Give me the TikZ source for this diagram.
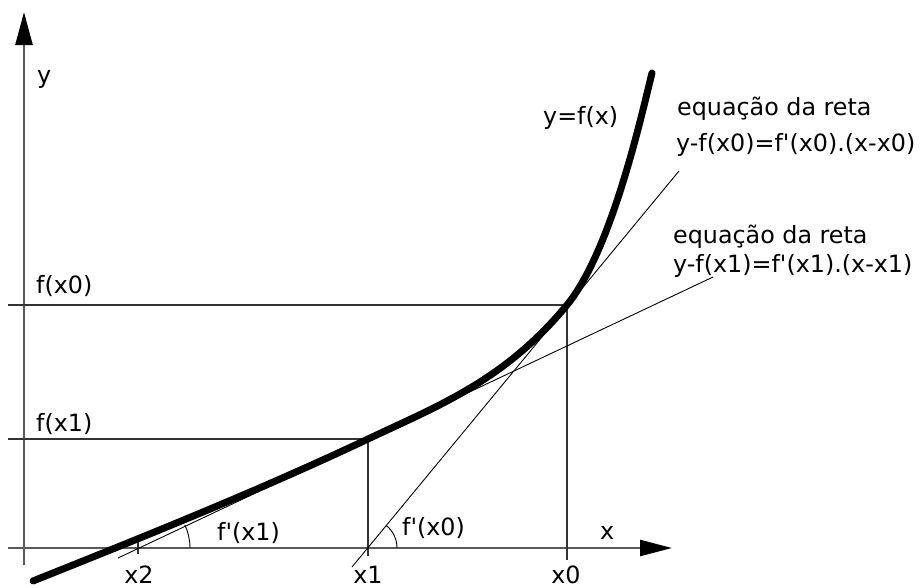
\documentclass[tikz,border=0pt]{standalone}
\usepackage{fontspec}
\setmainfont{DejaVu Sans}
\usetikzlibrary{arrows.meta}
\newcommand{\pq}{\textquotesingle}
\begin{document}
\begin{tikzpicture}[x=1pt,y=-1pt,
  axis/.style={draw=black!65,line width=2.6pt},
  guide/.style={draw=black!80,line width=1.2pt},
  tang/.style={draw=black,line width=0.9pt},
  curvestyle/.style={draw=black,line width=7pt,line cap=round},
  lbl/.style={inner sep=0pt,anchor=base west,font=\fontsize{23.8}{28}\selectfont}]
\useasboundingbox (0,0) rectangle (921,587);
\fill[white] (0,0) rectangle (921,587);
% key points
\coordinate (P0) at (567,305);
\coordinate (P1) at (368,439);
\coordinate (X0) at (567,548);
\coordinate (X1) at (368,548);
\coordinate (X2) at (136,548);
\coordinate (CS) at (33,581);
\coordinate (CE) at (652,73);
% axes
\coordinate (yb) at (24,565);
\coordinate (yt) at (24,12);
\coordinate (xl) at (8,548);
\coordinate (xr) at (672,548);
\draw[axis,-{Triangle[length=33pt,width=17pt,black]}] (yb) -- (yt);
\draw[axis,-{Triangle[length=32pt,width=16pt,black]}] (xl) -- (xr);
% guide lines
\coordinate (h0) at (8,305);
\coordinate (h1) at (8,439);
\coordinate (v0) at (567,560);
\coordinate (v1) at (368,556);
\draw[guide] (h0) -- (P0) -- (v0);
\draw[guide] (h1) -- (P1) -- (v1);
\coordinate (t2a) at (138,538);
\coordinate (t2b) at (138,554);
\draw[guide] (t2a) -- (t2b);
% tangent lines
\coordinate (T1a) at (118,558);
\coordinate (T1b) at (713,277);
\coordinate (T0a) at (352,567);
\coordinate (T0b) at (679,171);
\draw[tang] (T1a) -- (T1b);
\draw[tang] (T0a) -- (T0b);
% angle arcs
\draw[tang] ([shift={(54,0)}]X2) arc[start angle=0,end angle=-25.2,radius=54];
\draw[tang] ([shift={(29,0)}]X1) arc[start angle=0,end angle=-50.7,radius=29];
% curve
\draw[curvestyle] (CS) .. controls (143,537) and (258,491) .. (P1)
  .. controls (440,405) and (505,380) .. (P0)
  .. controls (612,250) and (642,113) .. (CE);
% labels
\node[lbl] (ly) at (37,83) {y};
\node[lbl] (lfx0) at (36,293) {f(x0)};
\node[lbl] (lfx1) at (36,431) {f(x1)};
\node[lbl] (lyf) at (543,124) {y=f(x)};
\node[lbl] (le0a) at (677,115) {equação da reta};
\node[lbl] (le0b) at (676,151) {y-f(x0)=f\pq(x0).(x-x0)};
\node[lbl] (le1a) at (673,243) {equação da reta};
\node[lbl] (le1b) at (673,272) {y-f(x1)=f\pq(x1).(x-x1)};
\node[lbl] (ld1) at (217,540) {f\pq(x1)};
\node[lbl] (ld0) at (402,535) {f\pq(x0)};
\node[lbl] (lx) at (600,539) {x};
\node[lbl,anchor=base] (lx2) at (139,583) {x2};
\node[lbl,anchor=base] (lx1) at (368,583) {x1};
\node[lbl,anchor=base] (lx0) at (566,583) {x0};
\end{tikzpicture}
\end{document}
